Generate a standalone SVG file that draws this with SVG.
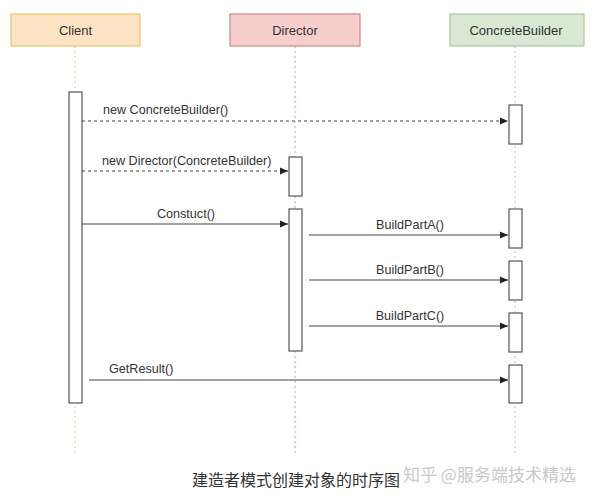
<svg xmlns="http://www.w3.org/2000/svg" width="597" height="500" viewBox="0 0 597 500">
<style>
.hdr{stroke-width:1.2}
.t{font-family:"Liberation Sans",Arial,sans-serif;font-size:12.6px;fill:#333}
.ht{font-family:"Liberation Sans",Arial,sans-serif;font-size:13px;fill:#333;text-anchor:middle}
.act{fill:#fff;stroke:#555;stroke-width:1.2}
.msg{stroke:#444;stroke-width:1.1;fill:none}
.dash{stroke-dasharray:3,3}
.life{stroke-width:1;stroke-dasharray:2,3;fill:none}
.cap{font-family:"Noto Sans CJK SC","Liberation Sans",sans-serif;font-size:16px}
</style>
<defs>
<marker id="arr" markerWidth="8" markerHeight="8" refX="8" refY="4" orient="auto" markerUnits="userSpaceOnUse">
<path d="M0,0.5 L8,4 L0,7.5 Z" fill="#222"/>
</marker>
</defs>
<rect width="597" height="500" fill="#fff"/>
<g id="lifelines">
<line class="life" x1="75" y1="46" x2="75" y2="455" stroke="#e8c98a"/>
<line class="life" x1="295" y1="46" x2="295" y2="455" stroke="#d99a9a"/>
<line class="life" x1="515" y1="46" x2="515" y2="455" stroke="#bbbbbb"/>
</g>
<g id="client">
<rect class="hdr" x="11" y="14" width="129" height="32" fill="#fde3c4" stroke="#e8c46a"/>
<text class="ht" x="75.5" y="35">Client</text>
</g>
<g id="director">
<rect class="hdr" x="230" y="14" width="130" height="32" fill="#f8cecc" stroke="#c98a88"/>
<text class="ht" x="295" y="35">Director</text>
</g>
<g id="concretebuilder">
<rect class="hdr" x="450" y="14" width="134" height="32" fill="#d8e8d3" stroke="#a8c79e"/>
<text class="ht" x="516" y="35">ConcreteBuilder</text>
</g>
<g id="activations">
<rect class="act" x="69" y="92" width="13" height="311"/>
<rect class="act" x="509" y="105" width="13" height="39"/>
<rect class="act" x="289" y="157" width="13" height="39"/>
<rect class="act" x="289" y="209" width="13" height="142"/>
<rect class="act" x="509" y="209" width="13" height="39"/>
<rect class="act" x="509" y="261" width="13" height="39"/>
<rect class="act" x="509" y="313" width="13" height="39"/>
<rect class="act" x="509" y="365" width="13" height="38"/>
</g>
<g id="connectors">
<line class="msg dash" x1="82" y1="121" x2="508" y2="121" marker-end="url(#arr)"/>
<line class="msg dash" x1="82" y1="171" x2="288" y2="171" marker-end="url(#arr)"/>
<line class="msg" x1="82" y1="224" x2="288" y2="224" marker-end="url(#arr)"/>
<line class="msg" x1="309" y1="235" x2="508" y2="235" marker-end="url(#arr)"/>
<line class="msg" x1="309" y1="280" x2="508" y2="280" marker-end="url(#arr)"/>
<line class="msg" x1="309" y1="326" x2="508" y2="326" marker-end="url(#arr)"/>
<line class="msg" x1="89" y1="380" x2="508" y2="380" marker-end="url(#arr)"/>
</g>
<g id="labels">
<text class="t" x="103" y="114">new ConcreteBuilder()</text>
<text class="t" x="102" y="165">new Director(ConcreteBuilder)</text>
<text class="t" x="186" y="218" text-anchor="middle">Constuct()</text>
<text class="t" x="410" y="229" text-anchor="middle">BuildPartA()</text>
<text class="t" x="410" y="274" text-anchor="middle">BuildPartB()</text>
<text class="t" x="410" y="320" text-anchor="middle">BuildPartC()</text>
<text class="t" x="109" y="373">GetResult()</text>
</g>
<text class="cap" x="192" y="486" fill="#333">建造者模式创建对象的时序图</text>
<text class="cap" x="403" y="481" fill="#c8c8c8" style="font-size:17px">知乎 @服务端技术精选</text>
</svg>
